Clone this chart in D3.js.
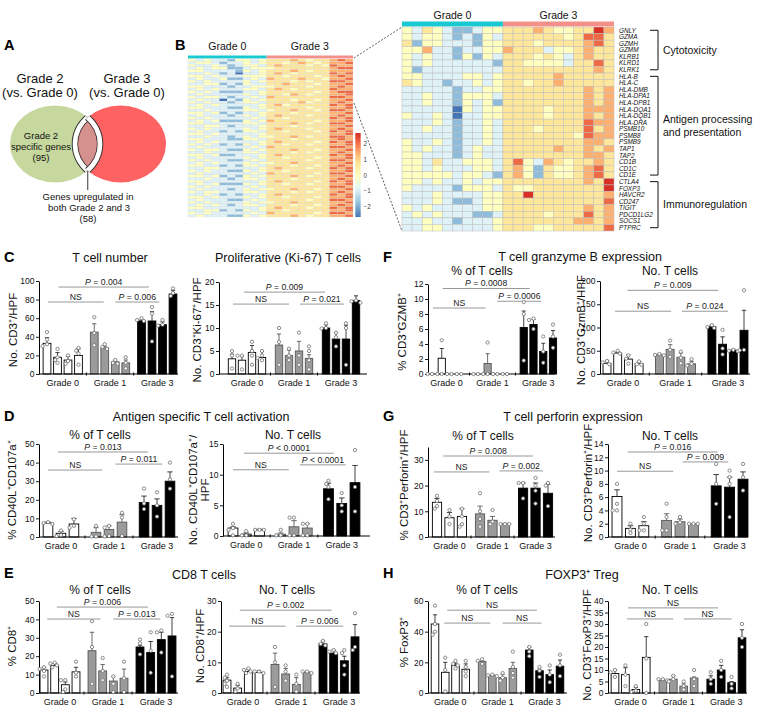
<!DOCTYPE html>
<html><head><meta charset="utf-8">
<script src="https://cdn.jsdelivr.net/npm/d3@7"></script>
<style>body{margin:0;background:#fff}svg{display:block}</style>
</head><body>
<script>
// ================= DATA =================
const groupNames = ["Grade 0", "Grade 1", "Grade 3"];
const vennLeftTitle = ["Grade 2", "(vs. Grade 0)"];
const vennRightTitle = ["Grade 3", "(vs. Grade 0)"];
const vennSpecific = 95;
const vennShared = 58;

const heatGroups = ["Grade 0", "Grade 3"];
const heatGroupCols = [10, 11];
const heatLegendTicks = [2, 1, 0, -1, -2];
// digit code per cell: 4 = 0 (neutral), lower = blue, higher = red
const heatLeftRows = [
"4343324434|55565455676","3443233434|55456545667","4334323443|56555454766","3434422344|45555555677",
"4433332434|55565455666","3343231334|56545555767","4434333444|55455545676","3433422343|65556554667",
"4343333434|55545455776","3344232433|55655545667","4433323344|45555455676","3434333443|56545555766",
"4343222334|55555545677","3433333434|55465455667","4344323343|65555555776","3433032434|55545545667",
"4343323443|55556455676","3434333334|56455555767","4433322434|55555455667","3343333443|45565545776",
"4434232334|55545555667","3433323434|56555455676","4343333343|55455555767","3434222434|65555545667",
"4433333443|55565455776","3344323334|55545555667","4343333434|56555455676","3433232443|55455545767",
"4434333334|55555555667","3343323434|45565455776","4433322443|55545555676","3434333334|56555545767",
"4343232434|55455455667","3433333343|65555555776","4344322434|55565545667","3343333443|55545455676",
"4434223334|56555555767","3433333434|55455545667","4343322343|55555455776","3434333434|45565555667",
"4433232443|55545545676","3344333334|56555455767","4343322434|55455555667","3433333343|65555545776",
"4434232434|55565455667","3343323443|55545555676","4433333334|56555545767","3434222434|55455455667",
"4343333343|55555555776","3433323434|45565545667","4344333443|55545455676","3343232334|56555555767",
"4434333434|55455545667","3433322343|55555455776","4343333434|45565555667","3434323443|55545545676",
"4433333334|56555455767","3344232434|55455555667","4343333343|65555545776","3433322434|55565455667"
];
const heatGenes = ["GNLY","GZMA","GZMH","GZMM","KLRB1","KLRD1","KLRK1","HLA-B","HLA-C","HLA-DMB","HLA-DPA1","HLA-DPB1","HLA-DQA1","HLA-DQB1","HLA-DRA","PSMB10","PSMB8","PSMB9","TAP1","TAP2","CD1B","CD1C","CD1E","CTLA4","FOXP3","HAVCR2","CD247","TIGIT","PDCD1LG2","SOCS1","PTPRC"];
const heatRightRows = [
"4354322344|55565445586","4344323243|55555545775","5244333244|55545555675","4463323344|65553445655",
"4343324243|55545435655","4343333332|55444435575","4233333333|55555555565","4433334434|55555655555",
"5433233434|55455655555","3333323344|55555555656","3343324443|55555555656","3343324342|55555555656",
"3333304344|55554555666","4334303344|55554555656","3334323343|55555555766","3343323343|55545555756",
"3333323343|55555554766","4334323343|55555555665","4343323433|55555655656","4433323433|55555555665",
"4435334443|57436545565","4434333443|56425445675","4444434432|56425445675","4434334344|55555555658",
"4333324443|54455555559","3334333344|55855555556","3334322344|55555555557","4343333344|55555555656",
"3434333223|55554555756","3343323334|55555556656","3344333334|55544555557"
];
const heatModules = [["Cytotoxicity"], ["Antigen processing", "and presentation"], ["Immunoregulation"]];
const heatModuleRange = [[0, 6], [7, 22], [23, 30]];

// C: T cell number
const cNumMean = [[33,18,15,20],[45,28,13,12],[57,57,53,86]];
const cNumTop  = [[39,23,19,27],[54,30,14,15],[58,67,56,90]];
const cNumPts  = [[[45,37,32,30],[27,18,15,12],[20,14,11],[28,25,22,10]],[[61,44,31],[32,29,27],[15,12,11],[18,12,6]],[[60,58,57],[72,65,35],[58,53,52],[92,87,84]]];
const cNumSig  = [["P = 0.004",1.1,9.7,93.5],["NS",0.1,5.4,77.4],["P = 0.006",6.5,10.7,77.4]];
const cKiMean = [[3.3,3.0,4.7,3.6],[6.3,4.0,5.0,3.4],[10,7.6,7.6,16]];
const cKiTop  = [[4.3,3.9,6.2,4.9],[8.7,5.2,7.1,4.2],[10.7,9,10.6,17]];
const cKiPts  = [[[5,4,1.2],[4,4,1],[7,5,4,2],[5,4,3.5,3]],[[10,7,2],[5.5,4,3],[9,4,2],[6,5,3,1]],[[11,10,9.9],[9,8,6],[11,10,2],[16,15.8,15.5]]];
const cKiSig  = [["P = 0.009",1.2,9.3,17.8],["NS",0.1,5.7,15.2],["P = 0.021",6.8,11.2,15.2]];
// D: antigen specific activation
const dPctMean = [[7.5,2,7],[2.5,4,8],[18.5,17,30]];
const dPctTop  = [[8,3,10],[5,6,12],[22,20.5,35]];
const dPctPts  = [[[8,7.5,7],[3.5,1,0.5],[9.5,6,5]],[[6,0.3,0.3],[6,5,0.5,0.3],[13,10.5,0.5]],[[26,18,15],[24,17,11],[40,31,26]]];
const dPctSig  = [["P = 0.013",0.77,7.7,45.7],["NS",0,4.2,36],["P = 0.011",5.2,8.8,39.2]];
const dNoMean = [[1.3,0.3,1.0],[0.3,1.5,1.3],[7.7,5.3,8.7]];
const dNoTop  = [[1.5,0.5,1.1],[0.5,2.5,2.0],[8.6,6.2,11.5]];
const dNoPts  = [[[2,1.3,1,0.1],[0.8,0.1,0.1],[1,1,1]],[[1,0.1,0.1],[3,3,0.1,0.1],[2,2,0.1,0.1]],[[9,8.5,8,6],[7,5,4],[14,8,4]]];
const dNoSig  = [["P < 0.0001",0.83,7.6,13.5],["NS",0,4.2,10.8],["P < 0.0001",5.05,8.5,11.6]];
// E: CD8
const ePctMean = [[12.5,15,4.5,11.5],[23,12,6.5,8],[25,22,29,31]];
const ePctTop  = [[14,16,6,14],[33,15.5,9,13],[26,28,33,41]];
const ePctPts  = [[[14,13,12,9],[16.5,16,15,14],[7,7,2,0.5],[17,11,9]],[[39,25,5],[19,12,7],[9,5,0.5],[17,8,0.5]],[[29,27,21],[33,23,11],[34,33,22],[43,42,9]]];
const ePctSig  = [["P = 0.006",1.2,9.75,46.7],["NS",0.3,5.3,40.2],["P = 0.013",6.5,10.9,40.2]];
const eNoMean = [[4.2,1.6,7.0,6.7],[9.3,6.2,2.8,6.8],[16,13,10.5,18.3]];
const eNoTop  = [[5,2.5,7.8,7.3],[13,8,5,7],[17,14,12,22.3]];
const eNoPts  = [[[6,5,4,3,2],[3,1.5,0.5],[8,7.5,7,6.5],[7,7,6.5]],[[15,10,2],[9,7,4],[6,3,0.5],[7,7,6.5]],[[17,16,15.5],[14,13.5,13],[14,13,9,6],[26,15,14]]];
const eNoSig  = [["P = 0.002",1.2,9.8,27],["NS",0.2,5.5,21.8],["P = 0.006",6.5,10.9,21.8]];
// F: granzyme B
const fPctMean = [[0,2.1,0,0],[0,1.4,0,0],[6.2,6.6,3.0,4.8]];
const fPctTop  = [[0,3.4,0,0],[0,2.7,0,0],[8.4,7.3,4.1,5.8]];
const fPctPts  = [[[0,0],[4.5,0,0],[0,0],[0,0]],[[0,0],[4.2,0,0],[0,0],[0,0]],[[9.6,8,1.8],[7.4,7.2,6],[5,3,1.5],[6.6,5,3.5]]];
const fPctSig  = [["P = 0.0008",1.1,10,11.4],["NS",0.1,5.5,8.8],["P = 0.0006",6.7,11.2,9.7]];
const fNoMean = [[23,45,32,22],[41,53,36,22],[102,64,51,94]];
const fNoTop  = [[28,47,41,27],[43,63,45,27],[105,80,53,137]];
const fNoPts  = [[[28,25,21],[50,46,44],[40,33,22],[27,21,20]],[[43,41,40],[72,52,37],[48,35,23],[32,22,18]],[[105,101,99],[95,55,42],[52,50,49],[180,52,51]]];
const fNoSig  = [["P = 0.009",1.9,10.4,180],["NS",0.75,6,135],["P = 0.024",7,11.3,135]];
// G: perforin
const gPctMean = [[13.5,7.5,8],[9,6.5,5],[19,19,17]];
const gPctTop  = [[15,9.5,11],[12,8,5.3],[21,21,20.5]];
const gPctPts  = [[[16,14,12,11],[10.5,8,5],[11,8,5,4]],[[17,10,7,4],[10.5,6,5],[5,5,5]],[[21,21,15],[23,20,18,13],[21,20,12]]];
const gPctSig  = [["P = 0.008",0.5,7.7,31.5],["NS",-0.25,4.2,25.3],["P = 0.002",5,8.5,25.7]];
const gNoMean = [[6.1,1.3,1.7],[2.5,2.3,2.0],[7.7,7.5,8.7]];
const gNoTop  = [[7.1,1.7,2.3],[3.5,2.7,2.0],[9.4,9.0,9.8]];
const gNoPts  = [[[8,5,4,4],[2,1.1,0.6],[3,2,1,1]],[[5,3,1,1],[3,2.2,2],[2,2,2]],[[11,8,5],[10,9,8,3],[11,9,7]]];
const gNoSig  = [["P = 0.016",0.8,7.5,12.8],["NS",0,4.2,9.9],["P = 0.009",4.9,8.3,11.3]];
// H: FOXP3 Treg
const hPctMean = [[45,13.5,18,15.5],[20.5,11.5,10,16],[28,14.5,12,17.5]];
const hPctTop  = [[51,20,19.5,19],[21,12,12,20],[30,15.5,15,21.5]];
const hPctPts  = [[[57,45,40,38],[23,15,1],[21,19,18,16],[21,17,14,11]],[[22,21,19],[12,11.5,11],[13,10,8],[27,17,13,10]],[[30,27,24],[17,14.5,10.5],[18,12,7],[25,18,11]]];
const hPctSig  = [["NS",1.2,9.95,54],["NS",0.9,5.4,45.6],["NS",6.6,10.4,45.6]];
const hNoMean = [[8.5,8,1.5,15.5],[5.5,6,3,6.5],[6,10,4.5,24]];
const hNoTop  = [[10,11,2.5,24.5],[6,7.5,4,7],[7.5,12,5,27.5]];
const hNoPts  = [[[10,9,7],[12,8,3],[3,1,0.5],[30,15,0]],[[6,6,5.5],[7.5,6,5],[5,3,1.5],[10,6,3]],[[9,6,4],[14,10,7],[7,4,2],[30,24,20]]];
const hNoSig  = [["NS",1.25,9.9,37],["NS",1.15,5.6,32.2],["NS",6.6,11.2,32.2]];

// ================= DRAWING =================
const FONT = '"Liberation Sans", Arial, Helvetica, sans-serif';
const svg = d3.select("body").append("svg").attr("width",757).attr("height",716).style("font-family",FONT);
svg.append("rect").attr("width",757).attr("height",716).attr("fill","#fff");
const defs = svg.append("defs");

function text(x,y,s,size,o={}){
  const t = svg.append("text").attr("x",x).attr("y",y).attr("font-size",size)
    .attr("text-anchor",o.anchor||"middle").attr("fill",o.fill||"#111");
  if(o.weight) t.attr("font-weight",o.weight);
  if(o.italic) t.attr("font-style","italic");
  t.text(s); return t;
}

// Panel letters
[["A",4,50],["B",175,50],["C",4,262],["D",4,421],["E",4,578],["F",383,262],["G",383,421],["H",383,578]]
  .forEach(([l,x,y])=>text(x,y,l,14.5,{anchor:"start",weight:"bold",fill:"#000"}));

// ---------- Panel A: Venn ----------
(function(){
  const eG = {cx:55, cy:144, rx:45, ry:38.5}, eR = {cx:120.5, cy:144, rx:45.5, ry:38.5};
  const mk = (id,e,sh)=>defs.append("clipPath").attr("id",id).append("ellipse")
     .attr("cx",e.cx).attr("cy",e.cy).attr("rx",e.rx-sh).attr("ry",e.ry-sh);
  mk("cG",eG,0); mk("cR",eR,0); mk("cGi",eG,3.2); mk("cRi",eR,3.2);
  const ell=(p,e)=>p.append("ellipse").attr("cx",e.cx).attr("cy",e.cy).attr("rx",e.rx).attr("ry",e.ry);
  ell(svg,eG).attr("fill","#c6d89e");
  ell(svg,eR).attr("fill","#fe6262");
  const g1 = svg.append("g").attr("clip-path","url(#cG)");
  ell(g1,eR).attr("fill","none").attr("stroke","#333").attr("stroke-width",6.6);
  ell(g1,eR).attr("fill","none").attr("stroke","#fff").attr("stroke-width",4.6);
  const g2 = svg.append("g").attr("clip-path","url(#cR)");
  ell(g2,eG).attr("fill","none").attr("stroke","#333").attr("stroke-width",6.6);
  ell(g2,eG).attr("fill","none").attr("stroke","#fff").attr("stroke-width",4.6);
  svg.append("g").attr("clip-path","url(#cGi)").append("g").attr("clip-path","url(#cRi)")
     .append("rect").attr("x",60).attr("y",100).attr("width",60).attr("height",90).attr("fill","#d5918d");
  const mx = (eG.cx+eR.cx)/2;
  svg.append("line").attr("x1",mx).attr("x2",mx).attr("y1",171).attr("y2",190).attr("stroke","#222").attr("stroke-width",0.9);
  text(40,83,vennLeftTitle[0],13); text(40,97,vennLeftTitle[1],13);
  text(127,83,vennRightTitle[0],13); text(127,97,vennRightTitle[1],13);
  text(41,139,"Grade 2",9.5); text(41,150,"specific genes",9.5); text(41,161,`(${vennSpecific})`,9.5);
  text(88,200,"Genes upregulated in",9.5); text(89,211,"both Grade 2 and 3",9.5); text(88,222,`(${vennShared})`,9.5);
})();

// ---------- Panel B: heatmaps ----------
const heatColor = d3.scaleLinear()
  .domain([-2.65,-1.77,-0.88,0,0.88,1.77,2.65])
  .range(["#4575B4","#91BFDB","#E0F3F8","#FFFFBF","#FEE090","#FC8D59","#D73027"]).clamp(true);
const decode = ch => { const d = parseInt(ch,10)-4; return d<0 ? d*0.9 : d*0.7; };
const nCols = heatGroupCols[0]+heatGroupCols[1];
const groupBarColor = ["#19c9d1","#f4908a"];

function heatmap(rows, x0, x1, yBar0, y0, y1, stroke, sw){
  const x = d3.scaleBand().domain(d3.range(nCols)).range([x0,x1]);
  const y = d3.scaleBand().domain(d3.range(rows.length)).range([y0,y1]);
  const g = svg.append("g");
  rows.forEach((r,ri)=>{
    const s = r.replace("|","");
    for(let c=0;c<nCols;c++){
      g.append("rect").attr("x",x(c)).attr("y",y(ri)).attr("width",x.bandwidth()).attr("height",y.bandwidth())
       .attr("fill",heatColor(decode(s[c]||"4"))).attr("stroke",stroke).attr("stroke-width",sw);
    }
  });
  g.append("rect").attr("x",x(0)).attr("y",yBar0).attr("width",x(heatGroupCols[0])-x(0)).attr("height",y0-yBar0-0.6).attr("fill",groupBarColor[0]);
  g.append("rect").attr("x",x(heatGroupCols[0])).attr("y",yBar0).attr("width",x1-x(heatGroupCols[0])).attr("height",y0-yBar0-0.6).attr("fill",groupBarColor[1]);
  return {x,y};
}
const hl = heatmap(heatLeftRows,188,353,55.5,59,217,"#d8d8d8",0.25);
text((hl.x(0)+hl.x(heatGroupCols[0]))/2,50,heatGroups[0],10.5);
text((hl.x(heatGroupCols[0])+353)/2,50,heatGroups[1],10.5);
const hr = heatmap(heatRightRows,402,614,21.5,27,231,"#bdbdbd",0.5);
text((hr.x(0)+hr.x(heatGroupCols[0]))/2,19,heatGroups[0],10.5);
text((hr.x(heatGroupCols[0])+614)/2,19,heatGroups[1],10.5);
// legend
(function(){
  const ly = d3.scaleLinear().domain([-2,2]).range([207,144]);
  const grad = defs.append("linearGradient").attr("id","hg").attr("x1",0).attr("x2",0).attr("y1",1).attr("y2",0);
  const lo=ly.invert(217), hi=ly.invert(133);
  d3.range(0,1.0001,0.05).forEach(t=>grad.append("stop").attr("offset",t).attr("stop-color",heatColor(lo+(hi-lo)*t)));
  svg.append("rect").attr("x",355.3).attr("y",133).attr("width",5.4).attr("height",84).attr("fill","url(#hg)");
  heatLegendTicks.forEach(v=>text(363.5,ly(v)+2.2,v<0?"\u2212"+Math.abs(v):String(v),6.3,{anchor:"start",fill:"#444"}));
})();
// gene labels
heatGenes.forEach((gname,i)=>{
  svg.append("text").attr("x",619).attr("y",hr.y(i)+hr.y.bandwidth()/2).attr("dy","0.36em")
    .attr("font-size",6.4).attr("font-style","italic").attr("fill","#111").text(gname);
});
// brackets
heatModules.forEach((lines,k)=>{
  const [a,b] = heatModuleRange[k];
  const ya = hr.y(a)+hr.y.bandwidth()/2, yb = hr.y(b)+hr.y.bandwidth()/2;
  svg.append("path").attr("d",`M650,${ya}H658V${yb}H650`).attr("fill","none").attr("stroke","#111").attr("stroke-width",1);
  const mid=(ya+yb)/2, n=lines.length;
  lines.forEach((l,j)=>text(663,mid+3.8+(j-(n-1)/2)*13,l,10.5,{anchor:"start"}));
});
// zoom dashed lines
svg.append("line").attr("x1",354).attr("y1",58).attr("x2",402).attr("y2",27).attr("stroke","#333").attr("stroke-width",0.8).attr("stroke-dasharray","2,1.6");
svg.append("line").attr("x1",354).attr("y1",103).attr("x2",402).attr("y2",231).attr("stroke","#333").attr("stroke-width",0.8).attr("stroke-dasharray","2,1.6");

// ---------- Bar charts ----------
const barFill = ["#ffffff","#9b9b9b","#000000"];
const barStroke = ["#000000","#555555","#000000"];
const errStroke = ["#111","#444","#111"];

function drawBars(cfg){
  const g = svg.append("g");
  const y = d3.scaleLinear().domain([0,cfg.ymax]).range([cfg.y0,cfg.yTop]);
  const counts = cfg.mean.map(a=>a.length);
  const offs=[]; let acc=0;
  counts.forEach(n=>{offs.push(acc); acc+=n+cfg.gap;});
  const lastSlot = offs[offs.length-1]+counts[counts.length-1]-1;
  const x = d3.scaleLinear().domain([0,lastSlot]).range([cfg.first,cfg.last]);
  const step = x(1)-x(0), bw = step*0.74;

  cfg.sig.forEach(([lab,s1,s2,v])=>{
    g.append("line").attr("x1",x(s1)).attr("x2",x(s2)).attr("y1",y(v)).attr("y2",y(v)).attr("stroke","#8c8c8c").attr("stroke-width",0.9);
    const t = g.append("text").attr("x",(x(s1)+x(s2))/2).attr("y",y(v)-2.2).attr("text-anchor","middle").attr("font-size",8.7).attr("fill","#222");
    if(lab[0]==="P"){ t.append("tspan").attr("font-style","italic").text("P"); t.append("tspan").text(lab.slice(1)); }
    else t.text(lab);
  });

  cfg.mean.forEach((arr,gi)=>arr.forEach((m,bi)=>{
    const cx = x(offs[gi]+bi), tp = cfg.top[gi][bi];
    if(tp>m){
      g.append("line").attr("x1",cx).attr("x2",cx).attr("y1",y(m)).attr("y2",y(tp)).attr("stroke",errStroke[gi]).attr("stroke-width",0.8);
      g.append("line").attr("x1",cx-bw*0.28).attr("x2",cx+bw*0.28).attr("y1",y(tp)).attr("y2",y(tp)).attr("stroke",errStroke[gi]).attr("stroke-width",0.8);
    }
    if(m>0){
      g.append("rect").attr("x",cx-bw/2).attr("y",y(m)).attr("width",bw).attr("height",cfg.y0-y(m))
        .attr("fill",barFill[gi]).attr("stroke",barStroke[gi]).attr("stroke-width",0.9);
    }
  }));

  // axes
  const ax = d3.axisLeft(y).tickValues(cfg.ticks).tickSize(3).tickSizeOuter(0).tickPadding(1.5);
  const ag = g.append("g").attr("transform",`translate(${cfg.axisX},0)`).call(ax);
  ag.attr("font-family",FONT);
  ag.select(".domain").attr("stroke","#000").attr("stroke-width",1);
  ag.selectAll(".tick line").attr("stroke","#000").attr("stroke-width",0.9);
  ag.selectAll(".tick text").attr("font-size",8.5).attr("fill","#111");
  g.append("line").attr("x1",cfg.axisX).attr("x2",cfg.xEnd).attr("y1",cfg.y0).attr("y2",cfg.y0).attr("stroke","#000").attr("stroke-width",1);
  for(let i=1;i<offs.length;i++){
    const sx = x(offs[i]-(cfg.gap+1)/2);
    g.append("line").attr("x1",sx).attr("x2",sx).attr("y1",cfg.y0-1.5).attr("y2",cfg.y0+1.5).attr("stroke","#000").attr("stroke-width",1);
  }
  groupNames.forEach((nm,gi)=>{
    g.append("text").attr("x",x(offs[gi]+(counts[gi]-1)/2)).attr("y",cfg.y0+11.5).attr("text-anchor","middle")
      .attr("font-size",9).attr("fill","#111").text(nm);
  });

  // dots
  cfg.pts.forEach((grp,gi)=>grp.forEach((vals,bi)=>{
    const cx = x(offs[gi]+bi); const placed=[];
    vals.forEach(v=>{
      const py = y(v);
      const cands=[0,-2.3,2.3,-4.4,4.4];
      let ox=0;
      for(const c of cands){ if(placed.every(p=>Math.hypot(p[0]-(cx+c),p[1]-py)>3.3)){ox=c;break;} }
      placed.push([cx+ox,py]);
      g.append("circle").attr("cx",cx+ox).attr("cy",py).attr("r",1.65).attr("fill","#fff").attr("stroke","#707070").attr("stroke-width",0.8);
    });
  }));

  // y label
  cfg.ylab.forEach((l,i)=>{
    g.append("text").attr("transform",`translate(${cfg.ylx[i]},${cfg.yly}) rotate(-90)`).attr("dy","0.35em")
      .attr("text-anchor","middle").attr("font-size",11.5).attr("fill","#111").text(l);
  });
  if(cfg.sub) g.append("text").attr("x",cfg.sub[1]).attr("y",cfg.sub[2]).attr("text-anchor","middle").attr("font-size",12).attr("fill","#111").text(cfg.sub[0]);
}

const charts = [
 {mean:cNumMean,top:cNumTop,pts:cNumPts,sig:cNumSig,ymax:100,ticks:[0,20,40,60,80,100],y0:374,yTop:281,axisX:39,xEnd:178,first:47,last:173,gap:0.5,ylab:["No. CD3\u207A/HPF"],ylx:[13],yly:330},
 {mean:cKiMean,top:cKiTop,pts:cKiPts,sig:cKiSig,ymax:20,ticks:[0,5,10,15,20],y0:374,yTop:282,axisX:219,xEnd:367,first:232,last:356,gap:0.7,ylab:["No. CD3\u207AKi-67\u207A/HPF"],ylx:[197],yly:330},
 {mean:dPctMean,top:dPctTop,pts:dPctPts,sig:dPctSig,ymax:50,ticks:[0,10,20,30,40,50],y0:537,yTop:444,axisX:39,xEnd:178,first:48,last:170,gap:0.7,ylab:["% CD40L\u207ACD107a\u207A"],ylx:[12],yly:490,sub:["% of T cells",100,439]},
 {mean:dNoMean,top:dNoTop,pts:dNoPts,sig:dNoSig,ymax:15,ticks:[0,5,10,15],y0:536,yTop:444,axisX:223,xEnd:370,first:233,last:355,gap:0.6,ylab:["No. CD40L\u207ACD107a\u207A/","HPF"],ylx:[193,205],yly:490,sub:["No. T cells",293,439]},
 {mean:ePctMean,top:ePctTop,pts:ePctPts,sig:ePctSig,ymax:50,ticks:[0,10,20,30,40,50],y0:693,yTop:601,axisX:39,xEnd:178,first:44,last:172,gap:0.5,ylab:["% CD8\u207A"],ylx:[12],yly:646,sub:["% of T cells",100,594]},
 {mean:eNoMean,top:eNoTop,pts:eNoPts,sig:eNoSig,ymax:30,ticks:[0,10,20,30],y0:693,yTop:601,axisX:221,xEnd:360,first:227,last:355,gap:0.5,ylab:["No. CD8\u207A/HPF"],ylx:[200],yly:646,sub:["No. T cells",287,594]},
 {mean:fPctMean,top:fPctTop,pts:fPctPts,sig:fPctSig,ymax:12,ticks:[0,2,4,6,8,10,12],y0:374,yTop:284,axisX:428,xEnd:555,first:432,last:553,gap:0.7,ylab:["% CD3\u207AGZMB\u207A"],ylx:[402],yly:332,sub:["% of T cells",482,274.5]},
 {mean:fNoMean,top:fNoTop,pts:fNoPts,sig:fNoSig,ymax:200,ticks:[0,50,100,150,200],y0:374,yTop:281,axisX:600,xEnd:750,first:607,last:744,gap:0.9,ylab:["No. CD3\u207AGzmB\u207A/HPF"],ylx:[581],yly:330,sub:["No. T cells",670,274.5]},
 {mean:gPctMean,top:gPctTop,pts:gPctPts,sig:gPctSig,ymax:35,ticks:[0,10,20,30],y0:537,yTop:447,axisX:428,xEnd:555,first:437,last:548,gap:0.45,ylab:["% CD3\u207APerforin\u207A/HPF"],ylx:[404],yly:485,sub:["% of T cells",483,440]},
 {mean:gNoMean,top:gNoTop,pts:gNoPts,sig:gNoSig,ymax:14,ticks:[0,2,4,6,8,10,12,14],y0:537,yTop:444,axisX:608,xEnd:748,first:617,last:743,gap:0.7,ylab:["No. CD3\u207APerforin\u207A/HPF"],ylx:[588],yly:483,sub:["No. T cells",670,440]},
 {mean:hPctMean,top:hPctTop,pts:hPctPts,sig:hPctSig,ymax:60,ticks:[0,20,40,60],y0:693,yTop:601,axisX:428,xEnd:567,first:435,last:560,gap:0.6,ylab:["% FoxP3\u207A"],ylx:[404],yly:642,sub:["% of T cells",487,594]},
 {mean:hNoMean,top:hNoTop,pts:hNoPts,sig:hNoSig,ymax:40,ticks:[0,5,10,15,20,25,30,35,40],y0:693,yTop:601,axisX:608,xEnd:747,first:615,last:742,gap:0.6,ylab:["No. CD3\u207AFoxP3\u207A/HPF"],ylx:[587],yly:645,sub:["No. T cells",670,594]}
];
charts.forEach(drawBars);

// Titles
text(110,262,"T cell number",12.5);
text(288,262,"Proliferative (Ki-67) T cells",12.5);
text(201,421,"Antigen specific T cell activation",12.5);
text(204,579,"CD8 T cells",12.5);
text(580,261,"T cell granzyme B expression",12.5);
text(573,421,"T cell perforin expression",12.5);
text(582,579,"FOXP3\u207A Treg",12.5);
</script>
</body></html>
